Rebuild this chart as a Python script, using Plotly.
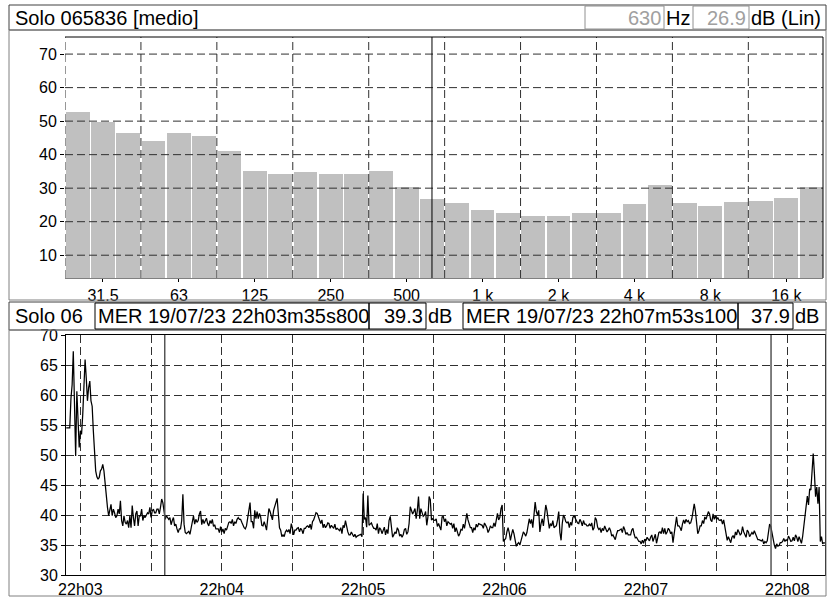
import plotly.graph_objects as go
import pandas as pd

W, H = 828, 597


def px(x):
    return x / W


def py(y):
    return 1 - y / H


# ---------------- spectrum (1/3 octave) ----------------
band_labels = ["25", "31.5", "40", "50", "63", "80", "100", "125", "160", "200",
               "250", "315", "400", "500", "630", "800", "1k", "1.25k", "1.6k", "2k",
               "2.5k", "3.15k", "4k", "5k", "6.3k", "8k", "10k", "12.5k", "16k", "20k"]
band_levels = [52.7, 49.8, 46.5, 44.1, 46.5, 45.6, 41.1, 35.1, 34.3, 34.8,
               34.3, 34.3, 35.1, 30.4, 26.9, 25.7, 23.5, 22.6, 21.7, 21.7,
               22.6, 22.6, 25.3, 31.0, 25.7, 24.8, 25.9, 26.2, 27.1, 30.4]
tick_bands = ["31.5", "63", "125", "250", "500", "1k", "2k", "4k", "8k", "16k"]
tick_text = ["31.5", "63", "125", "250", "500", "1 k", "2 k", "4 k", "8 k", "16 k"]
spec_yticks = [10, 20, 30, 40, 50, 60, 70]
cursor_band = "630"
cursor_band_text = "630"
cursor_band_level = "26.9"

# ---------------- time history (0.5 s samples) ----------------
start_time = "2023-07-19 22:02:54"
sample_step = "500ms"
levels = [
    54.6, 54.6, 54.6, 54.6, 59.5, 61.8, 67.4, 59.1, 49.9, 60.7,
    56.3, 51.3, 54.1, 53.5, 56.8, 62.9, 66.0, 62.9, 59.1, 61.3,
    62.4, 59.1, 58.2, 54.1, 50.2, 47.4, 46.4, 46.0, 46.3, 47.4,
    47.7, 48.5, 47.4, 44.9, 43.2, 41.3, 39.9, 40.7, 41.8, 39.9,
    41.0, 40.4, 39.6, 39.9, 41.0, 40.2, 42.4, 39.1, 38.2, 39.9,
    38.8, 38.5, 39.1, 37.9, 39.9, 37.9, 41.6, 39.6, 38.2, 40.2,
    40.7, 38.2, 39.9, 39.9, 41.0, 39.1, 39.9, 39.6, 39.9, 40.4,
    40.2, 41.3, 39.6, 40.7, 41.0, 40.4, 40.4, 41.0, 41.0, 40.2,
    41.3, 42.7, 42.1, 40.4, 39.3, 39.9, 39.6, 39.3, 39.6, 38.4,
    39.1, 39.6, 38.2, 38.5, 37.7, 37.1, 37.7, 37.7, 39.1, 43.5,
    38.5, 37.1, 36.9, 37.1, 37.3, 36.8, 37.7, 39.1, 39.9, 38.5,
    39.3, 38.8, 39.1, 40.2, 40.7, 38.4, 39.3, 38.6, 39.1, 39.5,
    38.6, 38.2, 39.1, 38.6, 39.3, 38.1, 38.4, 37.7, 37.7, 37.7,
    37.1, 38.1, 37.2, 37.7, 36.9, 37.8, 37.5, 38.1, 38.8, 38.9,
    38.6, 39.3, 38.2, 38.9, 38.6, 39.3, 39.6, 39.3, 39.3, 38.8,
    38.2, 37.9, 37.7, 38.2, 39.5, 41.0, 42.1, 38.9, 38.9, 37.8,
    40.8, 39.4, 40.6, 39.4, 40.3, 39.7, 38.3, 38.2, 38.9, 38.3,
    37.5, 39.4, 41.1, 40.6, 39.7, 39.2, 40.8, 41.4, 42.2, 42.8,
    40.3, 37.9, 37.5, 36.4, 36.7, 36.4, 37.2, 37.5, 37.2, 37.6,
    36.9, 38.6, 37.8, 36.7, 37.5, 37.5, 37.8, 37.9, 37.2, 37.8,
    37.5, 36.9, 37.8, 37.8, 38.1, 38.2, 37.9, 38.5, 37.6, 38.9,
    39.2, 39.8, 40.4, 40.3, 39.8, 39.3, 38.6, 39.2, 37.9, 38.5,
    37.9, 38.2, 38.7, 38.6, 37.8, 38.3, 38.1, 37.8, 38.5, 37.6,
    37.8, 37.6, 37.4, 37.9, 36.9, 38.3, 37.9, 39.1, 37.8, 37.2,
    36.7, 36.7, 37.2, 36.9, 36.4, 36.8, 36.3, 36.5, 36.6, 36.6,
    36.8, 36.4, 43.6, 39.3, 39.6, 38.0, 43.3, 38.3, 38.6, 38.7,
    38.2, 37.8, 37.8, 37.5, 38.6, 36.9, 37.9, 37.6, 36.9, 37.6,
    38.0, 36.7, 37.6, 36.9, 39.1, 39.8, 37.5, 36.3, 36.7, 37.2,
    36.9, 37.9, 37.5, 36.5, 36.8, 36.3, 36.7, 37.6, 37.8, 36.8,
    37.2, 38.6, 41.4, 40.8, 40.2, 40.6, 41.1, 39.4, 40.8, 43.1,
    39.4, 41.1, 40.6, 39.8, 40.0, 40.6, 38.3, 39.7, 43.1, 42.6,
    39.2, 39.4, 39.2, 39.1, 39.4, 38.1, 38.6, 37.8, 37.5, 39.7,
    39.8, 38.9, 39.4, 38.2, 38.9, 38.7, 38.5, 38.6, 37.8, 38.6,
    37.2, 37.9, 37.1, 36.5, 36.9, 37.6, 37.5, 38.5, 37.8, 39.1,
    40.3, 39.2, 38.3, 37.9, 37.9, 37.1, 37.9, 37.5, 38.5, 38.0,
    38.6, 38.5, 38.3, 38.3, 37.8, 38.7, 38.3, 37.9, 37.1, 37.5,
    38.2, 37.9, 37.9, 38.7, 38.1, 39.4, 40.3, 39.2, 39.6, 41.1,
    41.7, 35.6, 35.8, 36.1, 37.2, 37.9, 37.1, 35.8, 36.8, 37.6,
    36.9, 35.8, 34.8, 35.2, 35.4, 35.0, 35.8, 36.3, 37.2, 36.9,
    36.5, 37.1, 38.6, 39.4, 38.6, 39.3, 37.9, 40.3, 42.2, 40.6,
    40.0, 40.8, 37.2, 38.6, 39.4, 38.2, 40.3, 41.7, 40.8, 38.9,
    37.8, 38.6, 38.2, 39.1, 37.9, 38.1, 38.2, 39.2, 40.6, 37.1,
    35.8, 38.6, 40.0, 39.6, 38.9, 38.7, 38.9, 37.9, 38.8, 38.3,
    39.6, 39.9, 39.4, 39.1, 38.7, 38.6, 39.3, 38.9, 38.2, 39.1,
    38.5, 38.5, 38.2, 38.2, 38.5, 38.2, 38.7, 37.5, 37.9, 39.6,
    39.2, 38.0, 37.6, 37.8, 37.1, 37.8, 37.4, 38.2, 37.8, 37.2,
    37.5, 37.9, 37.4, 36.5, 36.7, 36.2, 35.9, 36.8, 37.4, 37.4,
    37.5, 37.7, 37.1, 38.1, 37.6, 36.8, 37.1, 36.7, 36.7, 36.7,
    37.5, 37.8, 36.8, 36.2, 36.3, 35.9, 35.6, 35.6, 35.2, 35.8,
    35.3, 36.0, 35.7, 36.3, 35.9, 35.7, 36.3, 36.7, 35.6, 36.4,
    36.8, 35.3, 36.1, 37.1, 37.2, 36.9, 37.9, 36.9, 37.8, 36.8,
    37.2, 37.8, 37.5, 36.9, 37.2, 35.4, 36.9, 38.9, 39.7, 38.2,
    38.2, 37.9, 37.4, 38.5, 39.2, 38.6, 39.3, 38.9, 39.1, 38.6,
    38.7, 39.4, 40.4, 41.9, 40.7, 38.3, 36.9, 37.4, 38.2, 38.2,
    39.1, 38.6, 39.7, 39.3, 40.0, 40.6, 40.2, 39.2, 38.9, 40.2,
    39.3, 39.9, 39.3, 39.6, 39.2, 39.1, 39.3, 38.5, 39.2, 38.1,
    36.9, 35.8, 36.4, 35.8, 35.4, 36.3, 36.6, 36.1, 37.2, 36.7,
    37.6, 37.2, 36.7, 36.9, 38.1, 37.2, 36.7, 36.3, 37.5, 37.2,
    36.4, 36.7, 37.1, 36.8, 37.4, 36.9, 36.2, 35.9, 35.9, 35.8,
    35.7, 35.9, 35.2, 35.6, 35.4, 35.7, 37.2, 38.5, 38.1, 36.9,
    36.1, 35.0, 34.4, 35.2, 34.8, 34.9, 35.4, 35.4, 35.6, 36.1,
    35.6, 35.9, 35.7, 36.5, 36.1, 35.6, 35.7, 36.3, 35.7, 36.7,
    36.3, 35.6, 36.4, 35.6, 35.3, 36.4, 38.1, 40.3, 41.9, 43.2,
    41.7, 44.4, 44.2, 48.1, 50.3, 47.0, 43.1, 44.7, 41.9, 44.7,
    35.6, 36.4, 35.2, 35.4, 35.3,
]
time_yticks = [30, 35, 40, 45, 50, 55, 60, 65, 70]
view_start = "2023-07-19 22:02:53.9"
view_end = "2023-07-19 22:08:16"
cursor_a_time = "2023-07-19 22:03:35.800"
cursor_a_text = "MER 19/07/23 22h03m35s800"
cursor_a_level = "39.3"
cursor_b_time = "2023-07-19 22:07:53.100"
cursor_b_text = "MER 19/07/23 22h07m53s100"
cursor_b_level = "37.9"

title_top = "Solo 065836 [medio]"
title_bottom = "Solo 06"

times = pd.date_range(start_time, periods=len(levels), freq=sample_step)
band_idx = list(range(len(band_labels)))
tick_idx = [band_labels.index(b) for b in tick_bands]

FONT = "Liberation Sans, Arial, sans-serif"
GRID = "#303030"
DASH = "8px,4px"

fig = go.Figure()
fig.add_trace(go.Bar(x=band_idx, y=band_levels, width=0.94,
                     marker=dict(color="#c0c0c0", line=dict(width=0)),
                     xaxis="x", yaxis="y", showlegend=False, hoverinfo="skip"))
fig.add_trace(go.Scatter(x=times, y=levels, mode="lines",
                         line=dict(color="black", width=1.25),
                         xaxis="x2", yaxis="y2", showlegend=False, hoverinfo="skip"))

# layout geometry (pixels)
TOP_L, TOP_R, TOP_T, TOP_B = 65, 823, 37, 278
BOT_L, BOT_R, BOT_T, BOT_B = 66, 825, 335, 575

axis_font = dict(family=FONT, size=16, color="black")
fig.update_layout(
    template="none",
    width=W, height=H, margin=dict(l=0, r=0, t=0, b=0, pad=0, autoexpand=False),
    paper_bgcolor="white", plot_bgcolor="white",
    font=dict(family=FONT, color="black"),
    bargap=0,
    xaxis=dict(domain=[px(TOP_L), px(TOP_R)], range=[-0.5, 29.45], automargin=False,
               tickmode="array", tickvals=tick_idx, ticktext=tick_text,
               ticks="outside", ticklen=3, tickcolor="black",
               showgrid=False, zeroline=False, showline=True, linecolor="#808080",
               tickfont=axis_font, anchor="y"),
    yaxis=dict(domain=[py(TOP_B), py(TOP_T)], range=[3.2, 75.1], automargin=False,
               tickmode="array", tickvals=spec_yticks,
               ticks="outside", ticklen=4, tickcolor="black",
               showgrid=False, zeroline=False, showline=False,
               tickfont=axis_font, anchor="x"),
    xaxis2=dict(domain=[px(BOT_L), px(BOT_R)], type="date", automargin=False,
                range=[view_start, view_end],
                tick0="2023-07-19 22:03:00", dtick=60000, tickformat="%Hh%M",
                ticks="", showgrid=True, gridcolor=GRID, griddash=DASH, gridwidth=1,
                minor=dict(dtick=30000, tick0="2023-07-19 22:03:00", showgrid=True,
                           gridcolor=GRID, griddash=DASH, gridwidth=1),
                zeroline=False, showline=True, linecolor="black", mirror=True,
                tickfont=axis_font, anchor="y2"),
    yaxis2=dict(domain=[py(BOT_B), py(BOT_T)], range=[30, 70.1], automargin=False,
                tickmode="array", tickvals=time_yticks,
                ticks="outside", ticklen=4, tickcolor="black",
                showgrid=True, gridcolor=GRID, griddash=DASH, gridwidth=1,
                zeroline=False, showline=True, linecolor="black", mirror=True,
                tickfont=axis_font, anchor="x2"),
)

shapes = []
# dashed grid over the bars (spectrum), derived from ticks
for i in tick_idx:
    shapes.append(dict(type="line", xref="x", yref="paper", x0=i - 1.5, x1=i - 1.5,
                       y0=py(TOP_B), y1=py(TOP_T), layer="above",
                       line=dict(color=GRID, width=1, dash=DASH)))
for v in spec_yticks:
    shapes.append(dict(type="line", xref="paper", yref="y", x0=px(TOP_L), x1=px(TOP_R),
                       y0=v, y1=v, layer="above",
                       line=dict(color=GRID, width=1, dash=DASH)))
# spectrum frame: top & right solid
shapes.append(dict(type="line", xref="paper", yref="paper", x0=px(TOP_L), x1=px(TOP_R),
                   y0=py(TOP_T), y1=py(TOP_T), line=dict(color="black", width=1)))
shapes.append(dict(type="line", xref="paper", yref="paper", x0=px(TOP_R), x1=px(TOP_R),
                   y0=py(TOP_B), y1=py(TOP_T), line=dict(color="black", width=1)))
# spectrum cursor
ci = band_labels.index(cursor_band)
shapes.append(dict(type="line", xref="x", yref="paper", x0=ci, x1=ci,
                   y0=py(TOP_B), y1=py(TOP_T), layer="above",
                   line=dict(color="black", width=1)))
# time cursors
for ct in (cursor_a_time, cursor_b_time):
    shapes.append(dict(type="line", xref="x2", yref="paper", x0=ct, x1=ct,
                       y0=py(BOT_B), y1=py(BOT_T), layer="above",
                       line=dict(color="#555555", width=1.5)))


def rect(x0, y0, x1, y1, color="black", width=1):
    return dict(type="rect", xref="paper", yref="paper", x0=px(x0), x1=px(x1),
                y0=py(y1), y1=py(y0), line=dict(color=color, width=width), layer="above")


shapes += [
    rect(9, 5, 826, 30, "#404040"),
    rect(9, 30, 826, 300, "#808080"),
    rect(9, 302, 826, 330, "#404040"),
    rect(9, 330, 826, 596, "#808080"),
    rect(585, 6, 664, 29, "#909090"),
    rect(693, 6, 749, 29, "#909090"),
    rect(95, 303, 369, 329, "black"),
    rect(369, 303, 426, 329, "black"),
    rect(463, 303, 738, 329, "black"),
    rect(738, 303, 793, 329, "black"),
]
fig.update_layout(shapes=shapes)

hfont = dict(family=FONT, size=20, color="black")
gfont = dict(family=FONT, size=20, color="#a0a0a0")


def label(x, y, text, anchor="left", font=hfont):
    return dict(xref="paper", yref="paper", x=px(x), y=py(y), text=text,
                showarrow=False, xanchor=anchor, yanchor="middle", font=font)


fig.update_layout(annotations=[
    label(13, 17.5, title_top),
    label(663, 17.5, cursor_band_text, "right", gfont),
    label(664, 17.5, "Hz"),
    label(748, 17.5, cursor_band_level, "right", gfont),
    label(749, 17.5, "dB (Lin)"),
    label(13, 316, title_bottom),
    label(96, 316, cursor_a_text),
    label(425, 316, cursor_a_level, "right"),
    label(426, 316, "dB"),
    label(464, 316, cursor_b_text),
    label(792, 316, cursor_b_level, "right"),
    label(793, 316, "dB"),
])

fig.write_html("out.html", config={"displayModeBar": False},
               post_script="document.body.style.margin='0';"
                           "document.body.style.padding='0';"
                           "document.body.style.overflow='hidden';")
